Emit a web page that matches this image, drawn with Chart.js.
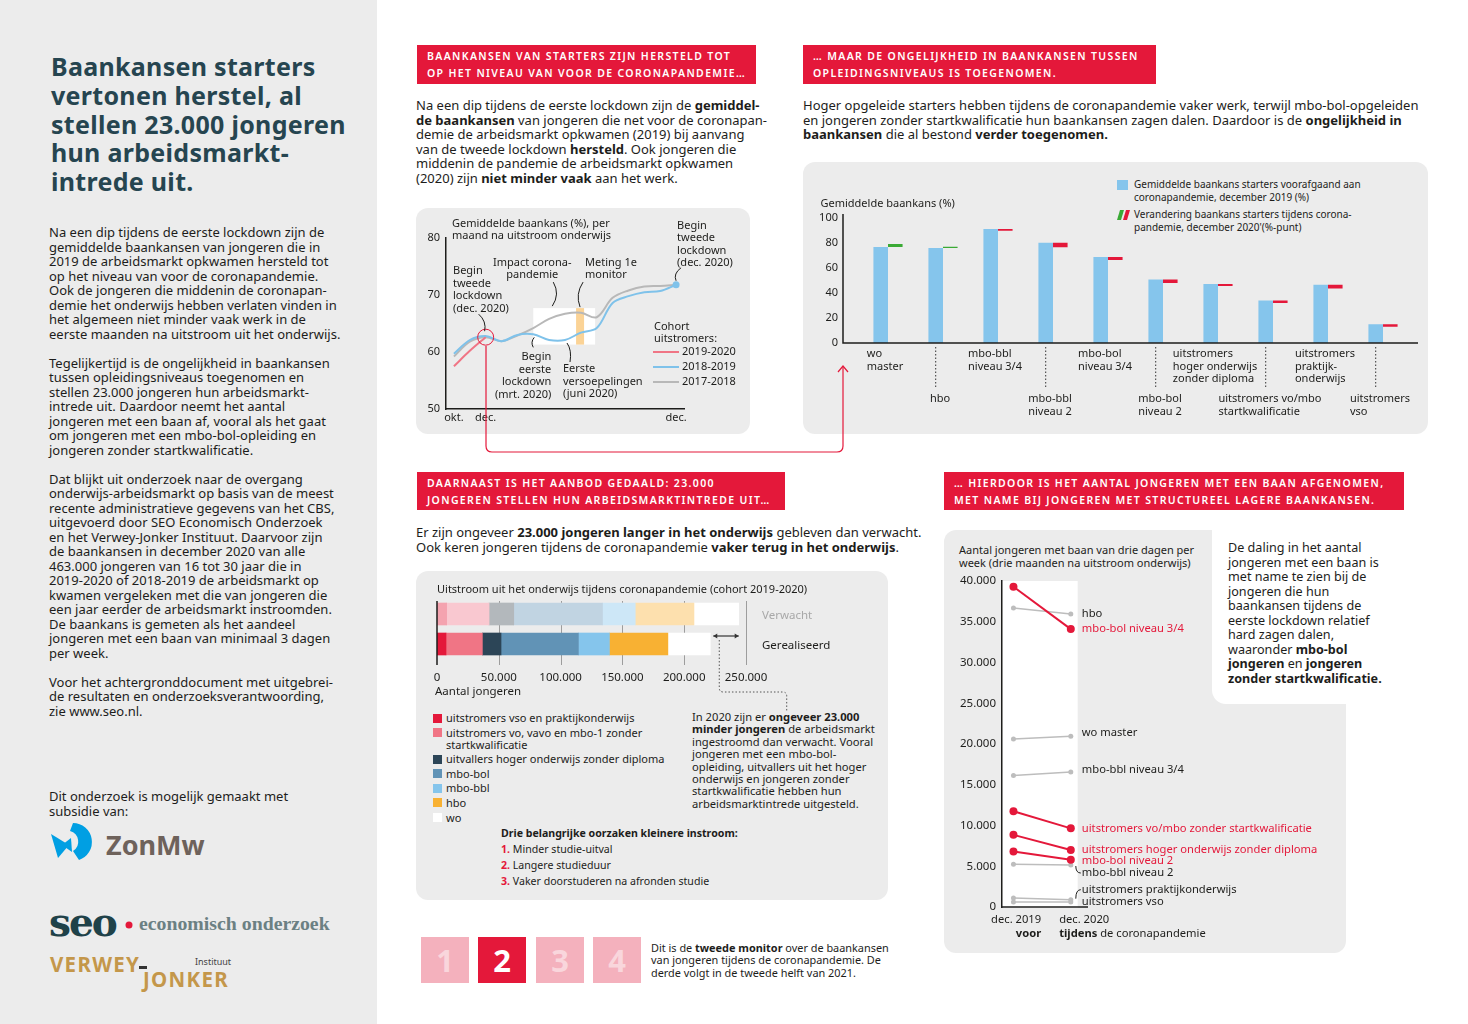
<!DOCTYPE html>
<html>
<head>
<meta charset="utf-8">
<script src="https://cdn.jsdelivr.net/npm/chart.js@4.4.1/dist/chart.umd.min.js"></script>
<style>
body { margin: 0; background: #fff; }
#pagina { position: relative; width: 1468px; height: 1024px; overflow: hidden; font-family: 'Noto Sans', sans-serif; color: #1d1d1b; }
.abs { position: absolute; white-space: nowrap; }
.txt { font-size: 13px; line-height: 14.5px; }
.kop { position: absolute; background: #e4183a; color: #fff; font-size: 10.5px; font-weight: 600; letter-spacing: 1.35px; line-height: 17px; padding: 3px 0 0 10px; box-sizing: border-box; white-space: nowrap; }
.paneel { position: absolute; background: #ececec; border-radius: 12px; }
canvas { position: absolute; }
.leg3 { font-size: 11px; line-height: 12px; margin-bottom: 2.6px; position: relative; padding-left: 13px; }
.leg3 span { position: absolute; left: 0; top: 1.5px; width: 9px; height: 9px; }
.blok { position: absolute; top: 937px; width: 48px; height: 46px; background: #f4b1bd; color: #f9d6dc; font-size: 31px; font-weight: bold; text-align: center; line-height: 46px; }
</style>
</head>
<body>
<div id="pagina">
  <div class="abs" style="left:0;top:0;width:377px;height:1024px;background:#ececec;"></div>

  <div class="abs" style="left:51px;top:52px;font-size:25px;line-height:28.8px;font-weight:bold;color:#264550;letter-spacing:0.3px;">Baankansen starters<br>vertonen herstel, al<br>stellen 23.000 jongeren<br>hun arbeidsmarkt-<br>intrede uit.</div>

  <div class="abs txt" style="left:49px;top:225px;">Na een dip tijdens de eerste lockdown zijn de<br>gemiddelde baankansen van jongeren die in<br>2019 de arbeidsmarkt opkwamen hersteld tot<br>op het niveau van voor de coronapandemie.<br>Ook de jongeren die middenin de coronapan-<br>demie het onderwijs hebben verlaten vinden in<br>het algemeen niet minder vaak werk in de<br>eerste maanden na uitstroom uit het onderwijs.<br><br>Tegelijkertijd is de ongelijkheid in baankansen<br>tussen opleidingsniveaus toegenomen en<br>stellen 23.000 jongeren hun arbeidsmarkt-<br>intrede uit. Daardoor neemt het aantal<br>jongeren met een baan af, vooral als het gaat<br>om jongeren met een mbo-bol-opleiding en<br>jongeren zonder startkwalificatie.<br><br>Dat blijkt uit onderzoek naar de overgang<br>onderwijs-arbeidsmarkt op basis van de meest<br>recente administratieve gegevens van het CBS,<br>uitgevoerd door SEO Economisch Onderzoek<br>en het Verwey-Jonker Instituut. Daarvoor zijn<br>de baankansen in december 2020 van alle<br>463.000 jongeren van 16 tot 30 jaar die in<br>2019-2020 of 2018-2019 de arbeidsmarkt op<br>kwamen vergeleken met die van jongeren die<br>een jaar eerder de arbeidsmarkt instroomden.<br>De baankans is gemeten als het aandeel<br>jongeren met een baan van minimaal 3 dagen<br>per week.<br><br>Voor het achtergronddocument met uitgebrei-<br>de resultaten en onderzoeksverantwoording,<br>zie www.seo.nl.</div>

  <div class="abs txt" style="left:49px;top:789px;">Dit onderzoek is mogelijk gemaakt met<br>subsidie van:</div>

  <svg class="abs" style="left:0;top:0;" width="377" height="1024">
    <path d="M73,823 A19,19 0 0 1 79,860 L73,851 A11,11 0 0 0 70,831 Z" fill="#009fe3"/>
    <path d="M51,834 L69,845 L58,858 Z" fill="#009fe3"/>
    <path d="M62,845 L71,838 L72,852 Z" fill="#009fe3"/>
    <text x="106" y="855" font-family="Noto Sans" font-weight="bold" font-size="27" fill="#6e625b">ZonMw</text>
    <text x="49" y="936" font-family="DejaVu Serif" font-weight="bold" font-size="39" fill="#1f4249" letter-spacing="-2">seo</text>
    <circle cx="129" cy="925" r="3.5" fill="#e4183a"/>
    <text x="139" y="930" font-family="Liberation Serif" font-weight="bold" font-size="19.8" fill="#6b8083">economisch onderzoek</text>
    <text x="50" y="972" font-family="Noto Sans" font-weight="bold" font-size="20.5" fill="#c4974a" letter-spacing="1.3">VERWEY</text>
    <rect x="139" y="966" width="8" height="3" fill="#333"/>
    <text x="143" y="987" font-family="Noto Sans" font-weight="bold" font-size="20.5" fill="#c4974a" letter-spacing="1.3">JONKER</text>
    <text x="195" y="965" font-family="Noto Sans" font-size="9" fill="#444">Instituut</text>
  </svg>

  <div class="kop" style="left:417px;top:45px;width:339px;height:39px;">BAANKANSEN VAN STARTERS ZIJN HERSTELD TOT<br>OP HET NIVEAU VAN VOOR DE CORONAPANDEMIE…</div>
  <div class="kop" style="left:803px;top:45px;width:353px;height:39px;">… MAAR DE ONGELIJKHEID IN BAANKANSEN TUSSEN<br>OPLEIDINGSNIVEAUS IS TOEGENOMEN.</div>
  <div class="kop" style="left:417px;top:472px;width:368px;height:38px;">DAARNAAST IS HET AANBOD GEDAALD: 23.000<br>JONGEREN STELLEN HUN ARBEIDSMARKTINTREDE UIT…</div>
  <div class="kop" style="left:944px;top:472px;width:460px;height:38px;">… HIERDOOR IS HET AANTAL JONGEREN MET EEN BAAN AFGENOMEN,<br>MET NAME BIJ JONGEREN MET STRUCTUREEL LAGERE BAANKANSEN.</div>

  <div class="abs txt" style="left:416px;top:98px;">Na een dip tijdens de eerste lockdown zijn de <b>gemiddel-</b><br><b>de baankansen</b> van jongeren die net voor de coronapan-<br>demie de arbeidsmarkt opkwamen (2019) bij aanvang<br>van de tweede lockdown <b>hersteld</b>. Ook jongeren die<br>middenin de pandemie de arbeidsmarkt opkwamen<br>(2020) zijn <b>niet minder vaak</b> aan het werk.</div>
  <div class="abs txt" style="left:803px;top:98px;">Hoger opgeleide starters hebben tijdens de coronapandemie vaker werk, terwijl mbo-bol-opgeleiden<br>en jongeren zonder startkwalificatie hun baankansen zagen dalen. Daardoor is de <b>ongelijkheid in</b><br><b>baankansen</b> die al bestond <b>verder toegenomen.</b></div>
  <div class="abs txt" style="left:416px;top:525px;">Er zijn ongeveer <b>23.000 jongeren langer in het onderwijs</b> gebleven dan verwacht.<br>Ook keren jongeren tijdens de coronapandemie <b>vaker terug in het onderwijs</b>.</div>

  <div class="paneel" style="left:416px;top:208px;width:334px;height:226px;"></div>
  <div class="paneel" style="left:803px;top:162px;width:625px;height:272px;"></div>
  <div class="paneel" style="left:416px;top:571px;width:472px;height:329px;"></div>
  <div class="paneel" style="left:944px;top:530px;width:402px;height:423px;"></div>
  <div class="abs" style="left:1212px;top:520px;width:150px;height:184px;background:#fff;border-bottom-left-radius:14px;"></div>

  <div class="abs" style="left:1117px;top:180px;width:11px;height:10px;background:#85c5ec;"></div>
  <div class="abs" style="left:1134px;top:177.5px;font-size:10px;line-height:13px;">Gemiddelde baankans starters voorafgaand aan<br>coronapandemie, december 2019 (%)</div>
  <svg class="abs" style="left:1115px;top:209px;" width="18" height="12"><path d="M2,11 L5,1 L9,1 L6,11 Z" fill="#3aaa35"/><path d="M8,11 L11,1 L15,1 L12,11 Z" fill="#e4183a"/></svg>
  <div class="abs" style="left:1134px;top:207.5px;font-size:10px;line-height:13px;">Verandering baankans starters tijdens corona-<br>pandemie, december 2020'(%-punt)</div>

  <div id="legenda3" class="abs" style="left:433px;top:712px;"></div>
  <div class="abs" style="left:692px;top:711px;font-size:11.2px;line-height:12.4px;">In 2020 zijn er <b>ongeveer 23.000</b><br><b>minder jongeren</b> de arbeidsmarkt<br>ingestroomd dan verwacht. Vooral<br>jongeren met een mbo-bol-<br>opleiding, uitvallers uit het hoger<br>onderwijs en jongeren zonder<br>startkwalificatie hebben hun<br>arbeidsmarktintrede uitgesteld.</div>
  <div class="abs" style="left:501px;top:825px;font-size:10.6px;line-height:16px;"><b>Drie belangrijke oorzaken kleinere instroom:</b><br><b style="color:#e4183a">1.</b> Minder studie-uitval<br><b style="color:#e4183a">2.</b> Langere studieduur<br><b style="color:#e4183a">3.</b> Vaker doorstuderen na afronden studie</div>

  <div class="abs" style="left:959px;top:542.5px;font-size:11px;line-height:13px;">Aantal jongeren met baan van drie dagen per<br>week (drie maanden na uitstroom onderwijs)</div>
  <div class="abs" style="left:1228px;top:541px;font-size:12.6px;line-height:14.5px;">De daling in het aantal<br>jongeren met een baan is<br>met name te zien bij de<br>jongeren die hun<br>baankansen tijdens de<br>eerste lockdown relatief<br>hard zagen dalen,<br>waaronder <b>mbo-bol</b><br><b>jongeren</b> en <b>jongeren</b><br><b>zonder startkwalificatie.</b></div>

  <div class="blok" style="left:421px;">1</div>
  <div class="blok" style="left:478px;background:#e4183a;color:#fff;">2</div>
  <div class="blok" style="left:536px;">3</div>
  <div class="blok" style="left:593px;">4</div>
  <div class="abs" style="left:651px;top:941.5px;font-size:10.9px;line-height:12.8px;">Dit is de <b>tweede monitor</b> over de baankansen<br>van jongeren tijdens de coronapandemie. De<br>derde volgt in de tweede helft van 2021.</div>

  <canvas id="g1" width="334" height="226" style="left:416px;top:208px;"></canvas>
  <canvas id="g2" width="625" height="272" style="left:803px;top:162px;"></canvas>
  <canvas id="g3" width="472" height="145" style="left:416px;top:571px;"></canvas>
  <canvas id="g4" width="402" height="423" style="left:944px;top:530px;"></canvas>

  <svg class="abs" style="left:0;top:0;pointer-events:none;" width="1468" height="1024">
    <path d="M486,346 V446 Q486,452 492,452 H837 Q843,452 843,446 V367" fill="none" stroke="#e4183a" stroke-width="1.2"/>
    <path d="M838,372 L843,366 L848,372" fill="none" stroke="#e4183a" stroke-width="1.2"/>
  </svg>
</div>

<script>
// grafiek 1: baankans per maand na uitstroom
var maanden = ['okt.', 'nov.', 'dec.', 'jan.', 'feb.', 'mrt.', 'apr.', 'mei', 'jun.', 'jul.', 'aug.', 'sep.', 'okt.', 'nov.', 'dec.'];
var zichtbareMaanden = [0, 2, 14];
var cohort2019_2020 = [57.5, 60.2, 62.6, null, null, null, null, null, null, null, null, null, null, null, null];
var cohort2018_2019 = [59.7, 62.1, 62.8, 61.9, 63.0, 63.1, 62.1, 62.1, 63.4, 64.2, 68.6, 69.8, 70.5, 70.7, 71.8];
var cohort2017_2018 = [59.2, 61.8, 62.6, 61.9, 62.9, 64.2, 65.8, 66.7, 66.9, 66.1, 69.5, 70.8, 71.5, 71.6, 71.8];
var yTicks1 = [50, 60, 70, 80];
var impactVan = 5, impactTot = 8.9, impactLaag = 61.3, impactHoog = 67.7;
var metingMaand = 7.95;

// grafiek 2: baankans per opleiding
var opleidingen = [['wo', 'master'], ['hbo'], ['mbo-bbl', 'niveau 3/4'], ['mbo-bbl', 'niveau 2'], ['mbo-bol', 'niveau 3/4'], ['mbo-bol', 'niveau 2'], ['uitstromers', 'hoger onderwijs', 'zonder diploma'], ['uitstromers vo/mbo', 'startkwalificatie'], ['uitstromers', 'praktijk-', 'onderwijs'], ['uitstromers', 'vso']];
var baankans2019 = [76.9, 76.1, 91.2, 80.2, 68.9, 50.9, 47.2, 34.0, 46.6, 15.0];
var verandering2020 = [2.4, 1.0, -1.3, -3.5, -2.4, -2.9, -1.6, -1.9, -2.9, -1.9];
var yTicks2 = [0, 20, 40, 60, 80, 100];

// grafiek 3: uitstroom cohort 2019-2020
var uitstroomRijen = ['Verwacht', 'Gerealiseerd'];
var uitstroomGroepen = ['uitstromers vso en praktijkonderwijs', 'uitstromers vo, vavo en mbo-1 zonder<br>startkwalificatie', 'uitvallers hoger onderwijs zonder diploma', 'mbo-bol', 'mbo-bbl', 'hbo', 'wo'];
var vsoPraktijk = [7800, 7300];
var voZonderSK = [34300, 29400];
var uitvallersHO = [20000, 15100];
var mboBol = [71800, 62600];
var mboBbl = [26500, 25100];
var hboUit = [47500, 47300];
var woUit = [36200, 34300];
var xTicks3 = [0, 50000, 100000, 150000, 200000, 250000];
var kleurVol = ['#e4183a', '#f07585', '#2c4557', '#6193b6', '#85c5ec', '#f8b133', '#ffffff'];
var kleurLicht = ['#f4a3af', '#f9c8d0', '#b3b8bc', '#c1d4e2', '#cde7f7', '#fde0ae', '#ffffff'];

// grafiek 4: aantal jongeren met baan
var groepen = ['mbo-bol niveau 3/4', 'hbo', 'wo master', 'mbo-bbl niveau 3/4', 'uitstromers vo/mbo zonder startkwalificatie', 'uitstromers hoger onderwijs zonder diploma', 'mbo-bol niveau 2', 'mbo-bbl niveau 2', 'uitstromers praktijkonderwijs', 'uitstromers vso'];
var dec2019 = [39300, 36700, 20600, 16150, 11750, 8850, 6800, 5250, 1100, 600];
var dec2020 = [34100, 35950, 20950, 16550, 9650, 7000, 5800, 5150, 900, 600];
var sterkeDaling = [true, false, false, false, true, true, true, false, false, false];

var ROOD = '#e4183a';
var FONT = "'Noto Sans', sans-serif";
Chart.defaults.font.family = FONT;
Chart.defaults.font.size = 11;
Chart.defaults.color = '#1d1d1b';
Chart.defaults.animation = false;
Chart.defaults.plugins.legend.display = false;
Chart.defaults.plugins.tooltip.enabled = false;

function punten(v) {
    return String(v).replace(/\B(?=(\d{3})+(?!\d))/g, '.');
}

function tekst(ctx, regels, x, y, lh, uitlijn, kleur, font) {
    ctx.save();
    ctx.fillStyle = kleur || '#1d1d1b';
    ctx.font = font || '11px ' + FONT;
    ctx.textAlign = uitlijn || 'left';
    ctx.textBaseline = 'middle';
    for (var i = 0; i < regels.length; i++) {
        ctx.fillText(regels[i], x, y + i * lh);
    }
    ctx.restore();
}

function boogje(ctx, x1, y1, cx, cy, x2, y2, kleur) {
    ctx.save();
    ctx.strokeStyle = kleur || '#1d1d1b';
    ctx.lineWidth = 1;
    ctx.beginPath();
    ctx.moveTo(x1, y1);
    ctx.quadraticCurveTo(cx, cy, x2, y2);
    ctx.stroke();
    ctx.restore();
}

var lijnPlugin = {
    id: 'lijnAnnotaties',
    beforeDatasetsDraw: function(chart) {
        var ctx = chart.ctx, x = chart.scales.x, y = chart.scales.y;
        var x1 = x.getPixelForValue(impactVan), x2 = x.getPixelForValue(impactTot);
        var y1 = y.getPixelForValue(impactHoog), y2 = y.getPixelForValue(impactLaag);
        ctx.save();
        ctx.fillStyle = '#fff';
        ctx.fillRect(x1, y1, x2 - x1, y2 - y1);
        ctx.fillStyle = '#fbd396';
        var xm = x.getPixelForValue(metingMaand);
        ctx.fillRect(xm - 4, y1, 8, y2 - y1);
        ctx.restore();
    },
    afterDatasetsDraw: function(chart) {
        var ctx = chart.ctx, x = chart.scales.x, y = chart.scales.y, ca = chart.chartArea;
        var L = ca.left, T = ca.top;
        tekst(ctx, ['Gemiddelde baankans (%), per', 'maand na uitstroom onderwijs'], L + 6, T - 14, 12);

        // cirkel rond dec. van cohort 2019-2020
        var ax = x.getPixelForValue(2), ay = y.getPixelForValue(cohort2019_2020[2]);
        ctx.save();
        ctx.strokeStyle = ROOD; ctx.lineWidth = 1;
        ctx.beginPath(); ctx.arc(ax, ay, 8, 0, Math.PI * 2); ctx.stroke();
        ctx.restore();
        tekst(ctx, ['Begin', 'tweede', 'lockdown', '(dec. 2020)'], L + 7, ay - 66, 12.4);
        boogje(ctx, ax - 7, ay - 23, ax + 1, ay - 16, ax - 1, ay - 6);

        var bx = x.getPixelForValue(14), by = y.getPixelForValue(cohort2018_2019[14]);
        tekst(ctx, ['Begin', 'tweede', 'lockdown', '(dec. 2020)'], bx + 1, by - 59, 12.4);
        boogje(ctx, bx + 5, by - 17, bx - 3, by - 11, bx, by - 4);

        var ix = x.getPixelForValue(impactVan), iy = y.getPixelForValue(impactHoog);
        tekst(ctx, ['Impact corona-', 'pandemie'], ix - 1, iy - 45, 12, 'center');
        boogje(ctx, ix + 20, iy - 26, ix + 27, iy - 14, ix + 19, iy - 2);

        var mx = x.getPixelForValue(metingMaand);
        tekst(ctx, ['Meting 1e', 'monitor'], mx + 5, iy - 45, 12);
        boogje(ctx, mx + 3, iy - 26, mx - 5, iy - 14, mx, iy - 1);

        var ex = x.getPixelForValue(5), ey = y.getPixelForValue(cohort2018_2019[5]);
        tekst(ctx, ['Begin', 'eerste', 'lockdown', '(mrt. 2020)'], ex + 18, ey + 23, 12.4, 'right');
        boogje(ctx, ex + 1, ey + 3, ex - 3, ey + 8, ex, ey + 13);

        var fx = x.getPixelForValue(7), fy = y.getPixelForValue(cohort2018_2019[7]);
        tekst(ctx, ['Eerste', 'versoepelingen', '(juni 2020)'], fx - 2, fy + 29, 12.4);
        boogje(ctx, fx + 2, fy + 3, fx + 7, fy + 10, fx + 5, fy + 22);

        // legenda
        tekst(ctx, ['Cohort', 'uitstromers:'], L + 208, T + 89, 12);
        var leg = [['2019-2020', '#f07585'], ['2018-2019', '#7fc2ea'], ['2017-2018', '#b8b8b8']];
        ctx.save();
        for (var i = 0; i < leg.length; i++) {
            var ly = T + 114 + i * 15;
            ctx.strokeStyle = leg[i][1]; ctx.lineWidth = 2;
            ctx.beginPath(); ctx.moveTo(L + 207, ly); ctx.lineTo(L + 233, ly); ctx.stroke();
            tekst(ctx, [leg[i][0]], L + 236, ly, 12);
        }
        ctx.restore();
    }
};

new Chart(document.getElementById('g1'), {
    type: 'line',
    data: {
        labels: maanden,
        datasets: [
            { label: '2019-2020', data: cohort2019_2020, borderColor: '#f07585', borderWidth: 2, pointRadius: 0, tension: 0.35 },
            { label: '2018-2019', data: cohort2018_2019, borderColor: '#7fc2ea', borderWidth: 2, tension: 0.35,
              pointRadius: cohort2018_2019.map(function(v, i) { return i === cohort2018_2019.length - 1 ? 3.5 : 0; }),
              pointBackgroundColor: '#7fc2ea', pointBorderWidth: 0 },
            { label: '2017-2018', data: cohort2017_2018, borderColor: '#b8b8b8', borderWidth: 2, pointRadius: 0, tension: 0.35 }
        ]
    },
    options: {
        responsive: false,
        layout: { padding: { top: 30, right: 66, bottom: 6, left: 0 } },
        scales: {
            x: {
                offset: true,
                grid: { display: false, drawTicks: false },
                border: { color: '#1d1d1b', width: 1.5 },
                ticks: { autoSkip: false, maxRotation: 0, padding: 2,
                         callback: function(v, i) { return zichtbareMaanden.indexOf(i) >= 0 ? maanden[i] : ''; } },
                afterFit: function(s) { s.height = 19; }
            },
            y: {
                min: 50, max: 80,
                afterBuildTicks: function(s) { s.ticks = yTicks1.map(function(v) { return { value: v }; }); },
                grid: { display: false, drawTicks: false },
                border: { color: '#1d1d1b', width: 1.5 },
                ticks: { padding: 6 },
                afterFit: function(s) { s.width = 30; }
            }
        }
    },
    plugins: [lijnPlugin]
});

var staafPlugin = {
    id: 'staafAnnotaties',
    afterDraw: function(chart) {
        var ctx = chart.ctx, x = chart.scales.x, ca = chart.chartArea;
        var asX = ca.left - 17.5;
        ctx.save();
        ctx.strokeStyle = '#1d1d1b'; ctx.lineWidth = 1.5;
        ctx.beginPath();
        ctx.moveTo(asX, ca.top - 4); ctx.lineTo(asX, ca.bottom); ctx.lineTo(ca.right + 7.5, ca.bottom);
        ctx.stroke();
        ctx.restore();
        tekst(ctx, ['Gemiddelde baankans (%)'], ca.left - 40, ca.top - 14, 12);

        var balken = chart.getDatasetMeta(0).data;
        for (var i = 0; i < opleidingen.length; i++) {
            var c = x.getPixelForValue(i) - 3;
            var regels = opleidingen[i];
            ctx.save();
            ctx.font = '11px ' + FONT;
            var breed = 0;
            for (var r = 0; r < regels.length; r++) breed = Math.max(breed, ctx.measureText(regels[r]).width);
            ctx.restore();
            var ty = ca.bottom + 11;
            if (i % 2 === 1) {
                ty = ca.bottom + 56;
                ctx.save();
                ctx.strokeStyle = '#333'; ctx.lineWidth = 1; ctx.setLineDash([1.5, 2]);
                ctx.beginPath(); ctx.moveTo(balken[i].x, ca.bottom + 4); ctx.lineTo(balken[i].x, ca.bottom + 46); ctx.stroke();
                ctx.restore();
            }
            tekst(ctx, regels, c - breed / 2, ty, 12.5);
        }
    }
};

new Chart(document.getElementById('g2'), {
    type: 'bar',
    data: {
        labels: opleidingen,
        datasets: [
            { data: baankans2019, backgroundColor: '#85c5ec', categoryPercentage: 0.53, barPercentage: 1 },
            { data: baankans2019.map(function(v, i) { return [v, v + verandering2020[i]]; }),
              backgroundColor: verandering2020.map(function(d) { return d > 0 ? '#3aaa35' : ROOD; }),
              categoryPercentage: 0.53, barPercentage: 1 }
        ]
    },
    options: {
        responsive: false,
        layout: { padding: { top: 56, right: 17.5, bottom: 91, left: 0 } },
        scales: {
            x: { display: false },
            y: {
                min: 0, max: 100,
                afterBuildTicks: function(s) { s.ticks = yTicks2.map(function(v) { return { value: v }; }); },
                grid: { display: false, drawTicks: false },
                border: { display: false },
                ticks: { padding: 22.5 },
                afterFit: function(s) { s.width = 57.5; }
            }
        }
    },
    plugins: [staafPlugin]
});

// legenda grafiek 3
var legHtml = '';
for (var k = 0; k < uitstroomGroepen.length; k++) {
    legHtml += '<div class="leg3"><span style="background:' + kleurVol[k] + '"></span>' + uitstroomGroepen[k] + '</div>';
}
document.getElementById('legenda3').innerHTML = legHtml;

var uitstroomReeksen = [vsoPraktijk, voZonderSK, uitvallersHO, mboBol, mboBbl, hboUit, woUit];
function totaal(rij) {
    var s = 0;
    for (var i = 0; i < uitstroomReeksen.length; i++) s += uitstroomReeksen[i][rij];
    return s;
}

var uitstroomPlugin = {
    id: 'uitstroomAnnotaties',
    beforeDatasetsDraw: function(chart) {
        var ctx = chart.ctx, x = chart.scales.x, ca = chart.chartArea;
        ctx.save();
        ctx.strokeStyle = '#9d9d9d'; ctx.lineWidth = 1;
        for (var i = 1; i < xTicks3.length; i++) {
            var px = Math.round(x.getPixelForValue(xTicks3[i])) + 0.5;
            ctx.beginPath(); ctx.moveTo(px, ca.top + 2); ctx.lineTo(px, ca.bottom + 6); ctx.stroke();
        }
        ctx.restore();
    },
    afterDraw: function(chart) {
        var ctx = chart.ctx, x = chart.scales.x, y = chart.scales.y, ca = chart.chartArea;
        ctx.save();
        ctx.strokeStyle = '#1d1d1b'; ctx.lineWidth = 1.5;
        ctx.beginPath(); ctx.moveTo(ca.left, ca.top + 2); ctx.lineTo(ca.left, ca.bottom + 6); ctx.stroke();
        ctx.restore();
        tekst(ctx, ['Uitstroom uit het onderwijs tijdens coronapandemie (cohort 2019-2020)'], ca.left, ca.top - 9, 12);
        // as-labels
        for (var i = 0; i < xTicks3.length; i++) {
            tekst(ctx, [punten(xTicks3[i])], x.getPixelForValue(xTicks3[i]), ca.bottom + 19, 12, 'center', '#1d1d1b', '11.5px ' + FONT);
        }
        tekst(ctx, ['Aantal jongeren'], ca.left - 2, ca.bottom + 33, 12, 'left', '#1d1d1b', '11.5px ' + FONT);
        tekst(ctx, [uitstroomRijen[0]], ca.right + 16, y.getPixelForValue(0) + 2, 12, 'left', '#a8a8a8', '11.5px ' + FONT);
        tekst(ctx, [uitstroomRijen[1]], ca.right + 16, y.getPixelForValue(1) + 2, 12, 'left', '#1d1d1b', '11.5px ' + FONT);

        var xr = x.getPixelForValue(totaal(1)), xv = x.getPixelForValue(totaal(0));
        var ay = y.getPixelForValue(1) - 8;
        ctx.save();
        ctx.strokeStyle = '#333'; ctx.fillStyle = '#333'; ctx.lineWidth = 1.2;
        ctx.beginPath(); ctx.moveTo(xr + 3, ay); ctx.lineTo(xv, ay); ctx.stroke();
        ctx.beginPath(); ctx.moveTo(xr + 3, ay); ctx.lineTo(xr + 7, ay - 2.5); ctx.lineTo(xr + 7, ay + 2.5); ctx.fill();
        ctx.beginPath(); ctx.moveTo(xv, ay); ctx.lineTo(xv - 4, ay - 2.5); ctx.lineTo(xv - 4, ay + 2.5); ctx.fill();
        ctx.setLineDash([1.5, 2]); ctx.lineWidth = 1; ctx.strokeStyle = '#555';
        var dx = xr + 9;
        ctx.beginPath();
        ctx.moveTo(dx, ay + 4); ctx.lineTo(dx, ca.bottom + 29);
        ctx.quadraticCurveTo(dx, ca.bottom + 33, dx + 4, ca.bottom + 33);
        ctx.lineTo(xv + 44, ca.bottom + 33);
        ctx.quadraticCurveTo(xv + 48, ca.bottom + 33, xv + 48, ca.bottom + 37);
        ctx.lineTo(xv + 48, ca.bottom + 52);
        ctx.stroke();
        ctx.restore();
    }
};

new Chart(document.getElementById('g3'), {
    type: 'bar',
    data: {
        labels: uitstroomRijen,
        datasets: uitstroomReeksen.map(function(r, i) {
            return { data: r, backgroundColor: [kleurLicht[i], kleurVol[i]], barThickness: 22 };
        })
    },
    options: {
        indexAxis: 'y',
        responsive: false,
        layout: { padding: { top: 28, right: 142, bottom: 57, left: 21 } },
        scales: {
            x: { stacked: true, min: 0, max: 250000, display: false },
            y: { stacked: true, display: false }
        }
    },
    plugins: [uitstroomPlugin]
});

var labelVerschuiving = [0, 0, -3, -2, 0, 0, 1, 8, -10, 0];

var hellingPlugin = {
    id: 'hellingAnnotaties',
    beforeDraw: function(chart) {
        var ctx = chart.ctx, x = chart.scales.x, ca = chart.chartArea;
        ctx.save();
        ctx.fillStyle = '#fff';
        ctx.fillRect(ca.left, ca.top, x.getPixelForValue(1.12) - ca.left, ca.bottom - ca.top + 1);
        ctx.restore();
    },
    afterDraw: function(chart) {
        var ctx = chart.ctx, x = chart.scales.x, y = chart.scales.y, ca = chart.chartArea;
        ctx.save();
        ctx.strokeStyle = '#1d1d1b'; ctx.lineWidth = 1.5;
        ctx.beginPath(); ctx.moveTo(ca.left, ca.bottom); ctx.lineTo(ca.right, ca.bottom); ctx.stroke();
        ctx.restore();
        var p1 = x.getPixelForValue(1);
        for (var i = 0; i < groepen.length; i++) {
            var py = y.getPixelForValue(dec2020[i]);
            var ly = py + labelVerschuiving[i];
            tekst(ctx, [groepen[i]], p1 + 11, ly, 12, 'left', sterkeDaling[i] ? ROOD : '#1d1d1b', '11.2px ' + FONT);
            if (labelVerschuiving[i] >= 6) boogje(ctx, p1 + 5, py + 1, p1 + 5, ly, p1 + 10, ly);
            if (labelVerschuiving[i] <= -6) boogje(ctx, p1 + 5, py - 1, p1 + 5, ly, p1 + 10, ly);
        }
        var mid = x.getPixelForValue(0.5);
        tekst(ctx, ['dec. 2019'], mid - 1, ca.bottom + 13, 12, 'right', '#1d1d1b', '11.2px ' + FONT);
        tekst(ctx, ['voor'], mid - 1, ca.bottom + 27, 12, 'right', '#1d1d1b', 'bold 11.2px ' + FONT);
        tekst(ctx, ['dec. 2020'], mid + 17, ca.bottom + 13, 12, 'left', '#1d1d1b', '11.2px ' + FONT);
        tekst(ctx, ['tijdens'], mid + 17, ca.bottom + 27, 12, 'left', '#1d1d1b', 'bold 11.2px ' + FONT);
        ctx.save(); ctx.font = 'bold 11.2px ' + FONT; var bw = ctx.measureText('tijdens ').width; ctx.restore();
        tekst(ctx, ['de coronapandemie'], mid + 17 + bw, ca.bottom + 27, 12, 'left', '#1d1d1b', '11.2px ' + FONT);
    }
};

var hellingData = groepen.map(function(g, i) {
    var kleur = sterkeDaling[i] ? ROOD : '#bdbdbd';
    return {
        label: g,
        data: [{ x: 0, y: dec2019[i] }, { x: 1, y: dec2020[i] }],
        borderColor: kleur, backgroundColor: kleur,
        borderWidth: sterkeDaling[i] ? 2 : 1.5,
        pointRadius: sterkeDaling[i] ? 4 : 2.5, pointBorderWidth: 0,
        order: sterkeDaling[i] ? 0 : 1
    };
});

new Chart(document.getElementById('g4'), {
    type: 'line',
    data: { datasets: hellingData },
    options: {
        responsive: false,
        layout: { padding: { top: 51, right: 258, bottom: 46, left: 0 } },
        scales: {
            x: { type: 'linear', min: -0.2, max: 1.3, display: false },
            y: {
                min: 0, max: 40000,
                afterBuildTicks: function(s) { var t = []; for (var v = 0; v <= 40000; v += 5000) t.push({ value: v }); s.ticks = t; },
                grid: { display: false, drawTicks: false },
                border: { color: '#1d1d1b', width: 1.5 },
                ticks: { padding: 6, font: { size: 11.5 }, callback: function(v) { return punten(v); } },
                afterFit: function(s) { s.width = 58; }
            }
        }
    },
    plugins: [hellingPlugin]
});
</script>
</body>
</html>
